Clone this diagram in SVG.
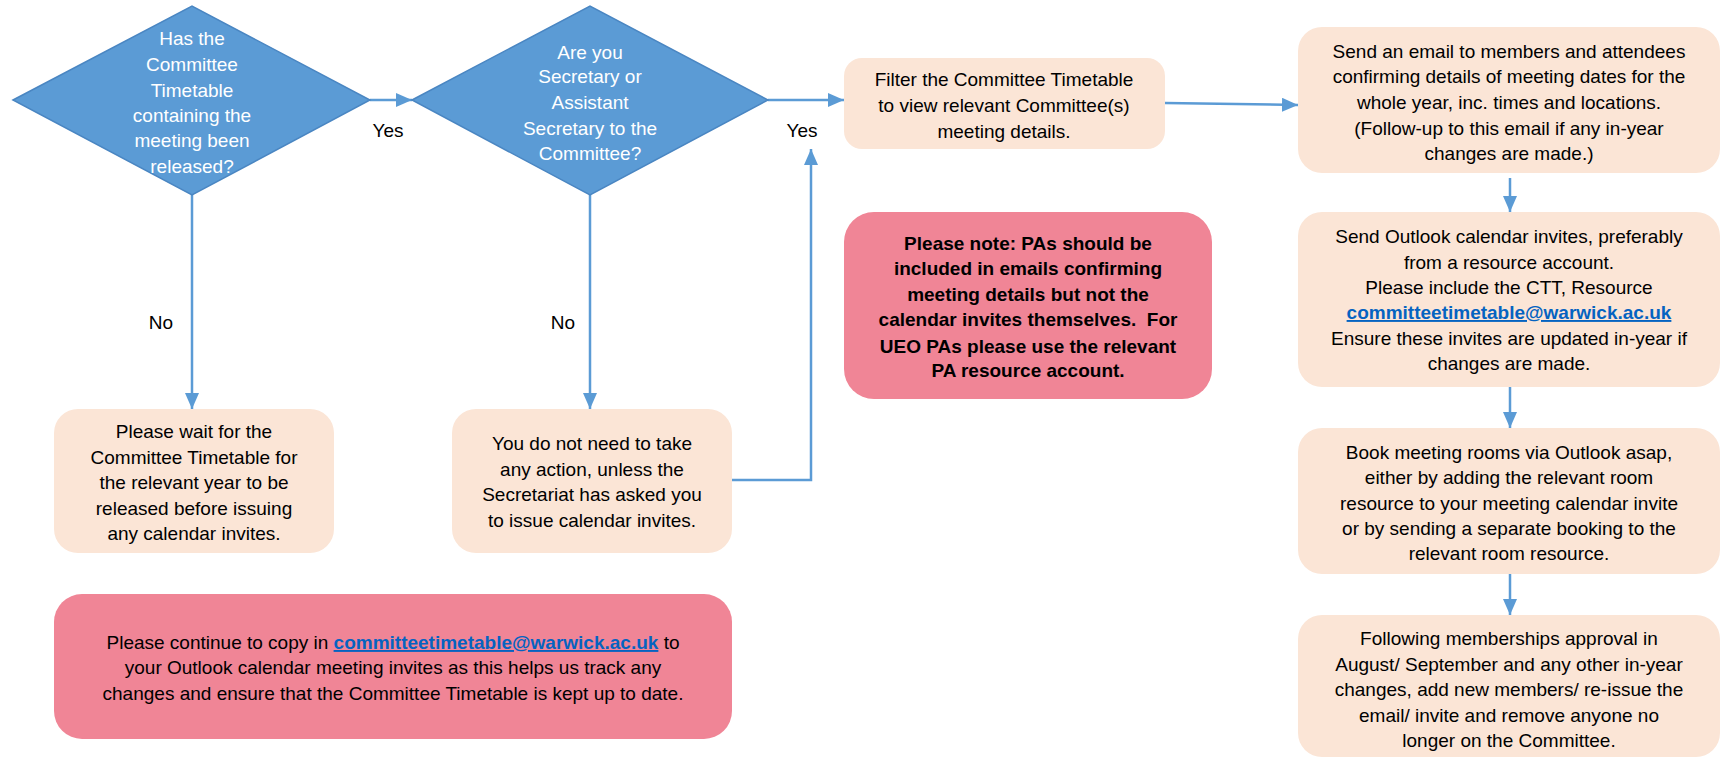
<svg xmlns="http://www.w3.org/2000/svg" width="1721" height="758" viewBox="0 0 1721 758">
<style>
  text { font-family: "Liberation Sans", Arial, sans-serif; font-size: 19px; fill: #000; text-anchor: middle; }
  .dt { fill: #fff; }
  .b { font-weight: bold; }
  .lnk { fill: #0563C1; font-weight: bold; text-decoration: underline; }
  .dia { fill: #5B9BD5; stroke: #4A86C2; stroke-width: 1.5; }
  .peach { fill: #FBE5D6; }
  .pink { fill: #F08596; }
  .con { fill: none; stroke: #5B9BD5; stroke-width: 2.5; }
</style>
<defs>
  <marker id="ah" markerUnits="userSpaceOnUse" markerWidth="16" markerHeight="14" viewBox="0 0 16 14" refX="16" refY="7" orient="auto">
    <path d="M0,0 L16,7 L0,14 Z" fill="#5B9BD5"/>
  </marker>
</defs>
<rect width="1721" height="758" fill="#fff"/>

<g id="connectors">
  <line class="con" x1="370" y1="100" x2="412" y2="100" marker-end="url(#ah)"/>
  <line class="con" x1="768" y1="100" x2="844" y2="100" marker-end="url(#ah)"/>
  <line class="con" x1="192" y1="195" x2="192" y2="409" marker-end="url(#ah)"/>
  <line class="con" x1="590" y1="195" x2="590" y2="409" marker-end="url(#ah)"/>
  <polyline class="con" points="732,480 811,480 811,149" marker-end="url(#ah)"/>
  <line class="con" x1="1165" y1="103" x2="1298" y2="105" marker-end="url(#ah)"/>
  <line class="con" x1="1510" y1="178" x2="1510" y2="212" marker-end="url(#ah)"/>
  <line class="con" x1="1510" y1="387" x2="1510" y2="428" marker-end="url(#ah)"/>
  <line class="con" x1="1510" y1="574" x2="1510" y2="615" marker-end="url(#ah)"/>
  <text x="388" y="137">Yes</text>
  <text x="802" y="137">Yes</text>
  <text x="161" y="329">No</text>
  <text x="563" y="329">No</text>
</g>

<g id="d1">
  <polygon class="dia" points="13,100 192,6 370,100 192,195"/>
  <text class="dt" x="192" y="45">Has the</text>
  <text class="dt" x="192" y="71">Committee</text>
  <text class="dt" x="192" y="97">Timetable</text>
  <text class="dt" x="192" y="122">containing the</text>
  <text class="dt" x="192" y="147">meeting been</text>
  <text class="dt" x="192" y="173">released?</text>
</g>

<g id="d2">
  <polygon class="dia" points="412,100 590,6 768,100 590,195"/>
  <text class="dt" x="590" y="59">Are you</text>
  <text class="dt" x="590" y="83">Secretary or</text>
  <text class="dt" x="590" y="109">Assistant</text>
  <text class="dt" x="590" y="135">Secretary to the</text>
  <text class="dt" x="590" y="160">Committee?</text>
</g>

<g id="filter">
  <rect class="peach" x="844" y="58" width="321" height="91" rx="18"/>
  <text x="1004" y="86">Filter the Committee Timetable</text>
  <text x="1004" y="112">to view relevant Committee(s)</text>
  <text x="1004" y="138">meeting details.</text>
</g>

<g id="email">
  <rect class="peach" x="1298" y="27" width="422" height="146" rx="24"/>
  <text x="1509" y="58">Send an email to members and attendees</text>
  <text x="1509" y="83">confirming details of meeting dates for the</text>
  <text x="1509" y="109">whole year, inc. times and locations.</text>
  <text x="1509" y="135">(Follow-up to this email if any in-year</text>
  <text x="1509" y="160">changes are made.)</text>
</g>

<g id="invites">
  <rect class="peach" x="1298" y="212" width="422" height="175" rx="24"/>
  <text x="1509" y="243">Send Outlook calendar invites, preferably</text>
  <text x="1509" y="269">from a resource account.</text>
  <text x="1509" y="294">Please include the CTT, Resource</text>
  <text class="lnk" x="1509" y="319">committeetimetable@warwick.ac.uk</text>
  <text x="1509" y="345">Ensure these invites are updated in-year if</text>
  <text x="1509" y="370">changes are made.</text>
</g>

<g id="rooms">
  <rect class="peach" x="1298" y="428" width="422" height="146" rx="24"/>
  <text x="1509" y="459">Book meeting rooms via Outlook asap,</text>
  <text x="1509" y="484">either by adding the relevant room</text>
  <text x="1509" y="510">resource to your meeting calendar invite</text>
  <text x="1509" y="535">or by sending a separate booking to the</text>
  <text x="1509" y="560">relevant room resource.</text>
</g>

<g id="memberships">
  <rect class="peach" x="1298" y="615" width="422" height="142" rx="24"/>
  <text x="1509" y="645">Following memberships approval in</text>
  <text x="1509" y="671">August/ September and any other in-year</text>
  <text x="1509" y="696">changes, add new members/ re-issue the</text>
  <text x="1509" y="722">email/ invite and remove anyone no</text>
  <text x="1509" y="747">longer on the Committee.</text>
</g>

<g id="panote">
  <rect class="pink" x="844" y="212" width="368" height="187" rx="30"/>
  <text class="b" x="1028" y="250">Please note: PAs should be</text>
  <text class="b" x="1028" y="275">included in emails confirming</text>
  <text class="b" x="1028" y="301">meeting details but not the</text>
  <text class="b" x="1028" y="326" xml:space="preserve">calendar invites themselves.  For</text>
  <text class="b" x="1028" y="353">UEO PAs please use the relevant</text>
  <text class="b" x="1028" y="377">PA resource account.</text>
</g>

<g id="wait">
  <rect class="peach" x="54" y="409" width="280" height="144" rx="24"/>
  <text x="194" y="438">Please wait for the</text>
  <text x="194" y="464">Committee Timetable for</text>
  <text x="194" y="489">the relevant year to be</text>
  <text x="194" y="515">released before issuing</text>
  <text x="194" y="540">any calendar invites.</text>
</g>

<g id="noaction">
  <rect class="peach" x="452" y="409" width="280" height="144" rx="24"/>
  <text x="592" y="450">You do not need to take</text>
  <text x="592" y="476">any action, unless the</text>
  <text x="592" y="501">Secretariat has asked you</text>
  <text x="592" y="527">to issue calendar invites.</text>
</g>

<g id="copyin">
  <rect class="pink" x="54" y="594" width="678" height="145" rx="28"/>
  <text x="393" y="649">Please continue to copy in <tspan class="lnk">committeetimetable@warwick.ac.uk</tspan> to</text>
  <text x="393" y="674">your Outlook calendar meeting invites as this helps us track any</text>
  <text x="393" y="700">changes and ensure that the Committee Timetable is kept up to date.</text>
</g>
</svg>
